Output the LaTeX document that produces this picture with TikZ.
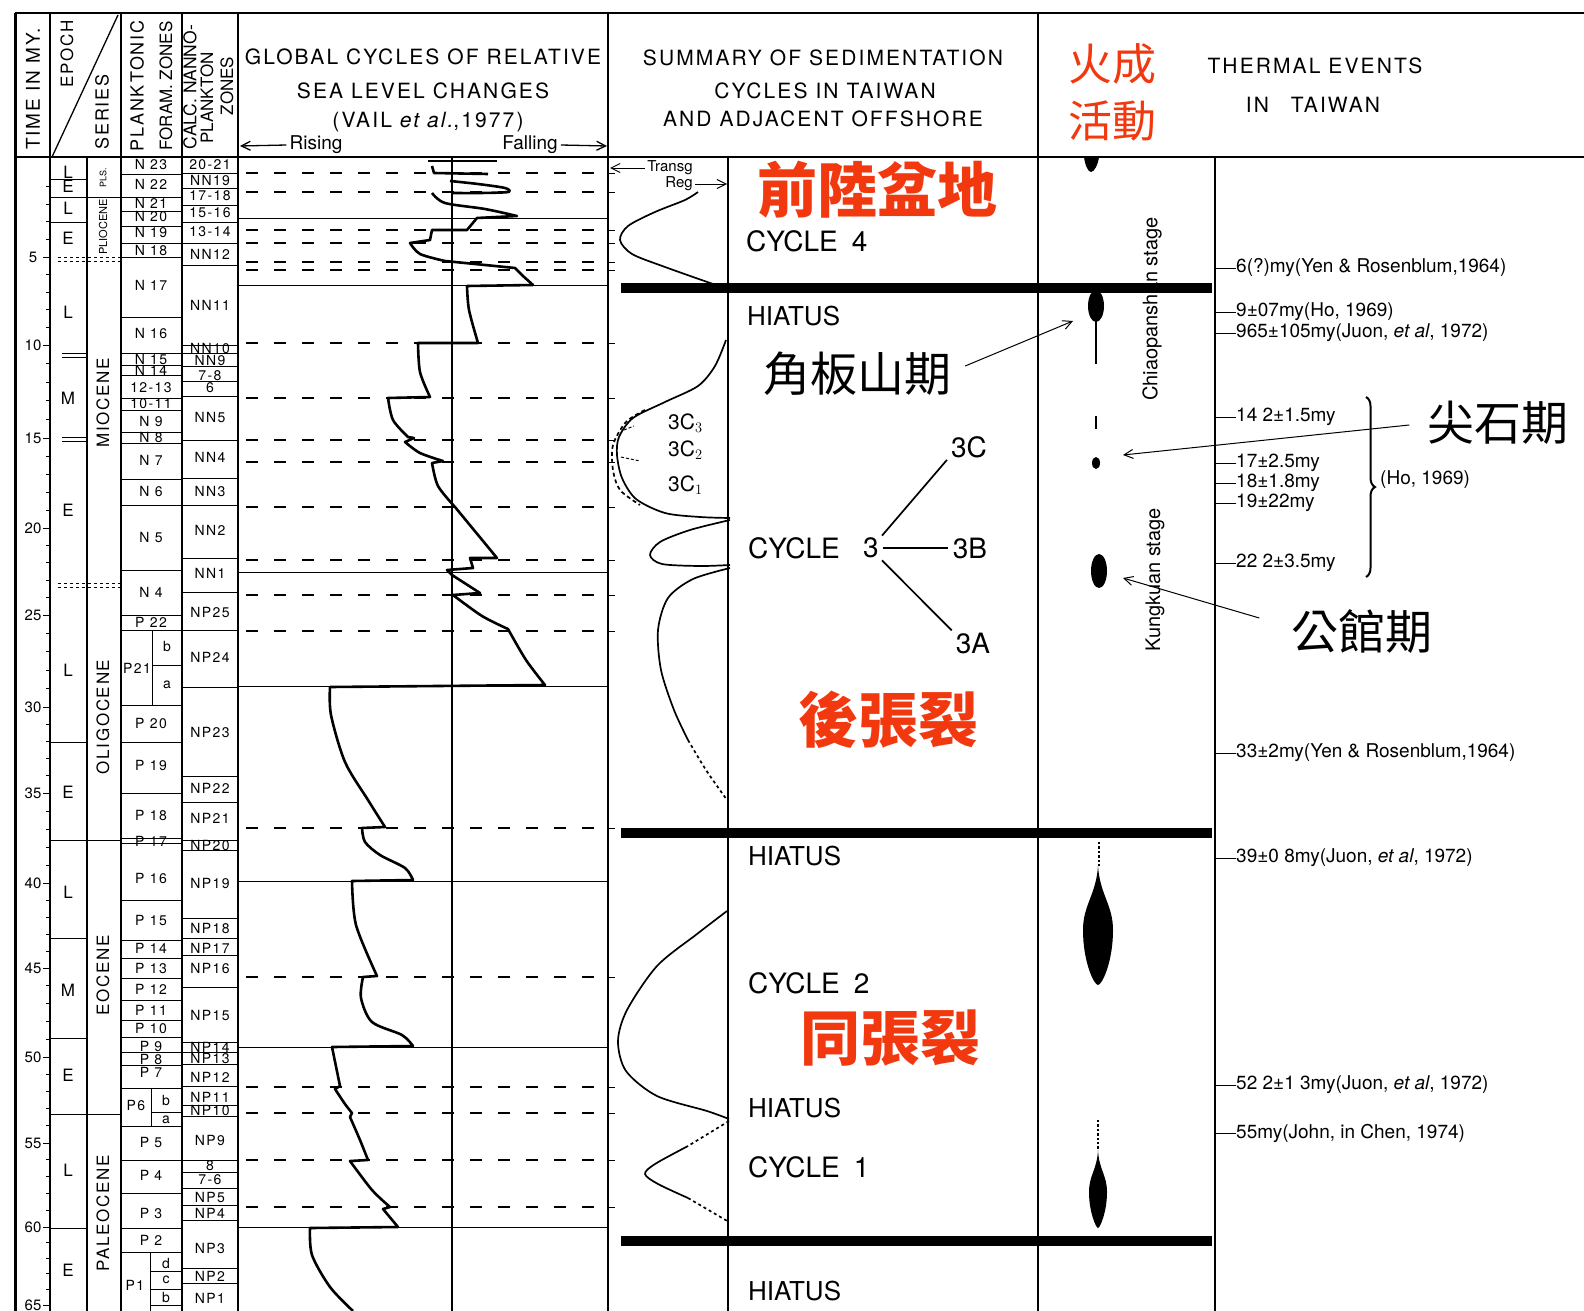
\documentclass[tikz,border=0pt]{standalone}
\usepackage{fontspec}
\setmainfont{TeX Gyre Heros}
\newfontfamily\wide{TeX Gyre Heros}[LetterSpace=10]
\newfontfamily\cjk{Noto Sans CJK TC}
\usetikzlibrary{arrows.meta,decorations.pathreplacing}
\definecolor{redcjk}{HTML}{F2380F}
\newcommand{\fsz}[1]{\fontsize{#1}{#1}\selectfont}
\tikzset{>/.tip={Straight Barb[length=9pt,width=9pt]},
  rule/.style={line width=1.3pt},
  zoneline/.style={line width=1pt},
  sealevel/.style={line width=2.6pt, line join=round},
  cyc/.style={line width=1.7pt},
  hiatusbar/.style={line width=10pt},
  dashrow/.style={line width=1.2pt, dash pattern=on 12pt off 16pt},
  zone/.style={font=\wide\fsz{14}, inner sep=0pt},
  hdr/.style={font=\wide\fsz{21}, inner sep=0pt},
  vhdr/.style={font=\wide\fsz{17}, inner sep=0pt, rotate=90},
  big/.style={font=\fsz{28}, inner sep=0pt, anchor=west},
  age/.style={font=\fsz{19}, inner sep=0pt, anchor=west},
  redtag/.style={text=redcjk, font=\cjk\bfseries\fsz{60}, inner sep=0pt},
  stagetag/.style={font=\cjk\fsz{47}, inner sep=0pt}}

\begin{document}
\begin{tikzpicture}[x=1pt,y=-1pt]
\useasboundingbox (0,0) rectangle (1584,1311);

% frame and columns
\draw[line width=3pt] (15,13) -- (15,1311);
\draw[rule] (15,13) -- (1584,13);
\draw[rule] (15,157) -- (1584,157);
\foreach \x in {50,121,182,238,608,1038}
  \draw[rule] (\x,13) -- (\x,1311);
\foreach \x in {87,452,728,1215}
  \draw[rule] (\x,157) -- (\x,1311);
\draw[rule] (52,157) -- (118,15);

% header, left columns
\node[vhdr, font=\wide\fsz{19}] (hTime) at (33,89) {TIME IN MY.};
\node[vhdr] (hEpoch) at (67,54) {EPOCH};
\node[vhdr, font=\wide\fsz{18}] (hSeries) at (102,112) {SERIES};
\node[vhdr, font=\wide\fsz{18}] (hPlank) at (137,86) {PLANKTONIC};
\node[vhdr, font=\fsz{17}] (hForam) at (166,86) {FORAM. ZONES};
\node[vhdr, font=\fsz{17.5}] (hCalc) at (190,87) {CALC. NANNO-};
\node[vhdr, font=\fsz{17}] (hPlkt) at (207,98) {PLANKTON};
\node[vhdr, font=\fsz{17}] (hZones) at (227,86) {ZONES};

% header, sea level
\node[hdr] (gsl1) at (423,57) {GLOBAL CYCLES OF RELATIVE};
\node[hdr] (gsl2) at (423,91) {SEA LEVEL CHANGES};
\node[hdr] (gsl3) at (428,122) {(VAIL \textit{et al.},1977)};
\node[font=\fsz{19}, inner sep=0pt] (rising) at (316,145) {Rising};
\node[font=\fsz{19}, inner sep=0pt] (falling) at (530,145) {Falling};
\coordinate (riseEnd) at (240,146);
\coordinate (fallEnd) at (607,146);
\draw[rule,->] ([xshift=-3pt]rising.west) -- (riseEnd);
\draw[rule,->] ([xshift=3pt]falling.east) -- (fallEnd);

% header, summary and thermal
\node[hdr] (sum1) at (823,58) {SUMMARY OF SEDIMENTATION};
\node[hdr] (sum2) at (825,91) {CYCLES IN TAIWAN};
\node[hdr] (sum3) at (823,119) {AND ADJACENT OFFSHORE};
\node[hdr] (th1) at (1315,66) {THERMAL EVENTS};
\node[hdr] (th2) at (1313,105) {IN\hspace{22pt}TAIWAN};
\node[text=redcjk, font=\cjk\fsz{44}, inner sep=0pt] (huo1) at (1112,64) {火成};
\node[text=redcjk, font=\cjk\fsz{44}, inner sep=0pt] (huo2) at (1112,121) {活動};

% time scale
\foreach \t/\y in {5/257,10/345,15/438,20/528,25/615,30/707,35/793,40/883,45/968,50/1057,55/1143,60/1227,65/1305}
  \node[font=\fsz{15}, inner sep=0pt] (t\t) at (33,\y) {\t};
\foreach \ya/\yb in {169/257,257/345,345/438,438/528,528/615,615/707,707/793,793/883,883/968,968/1057,1057/1143,1143/1227,1227/1305} {
  \draw[zoneline] (43,\yb) -- (50,\yb);
  \foreach \k in {1,...,4}
    \draw[zoneline] (46,{\ya+\k*(\yb-\ya)/5}) -- (50,{\ya+\k*(\yb-\ya)/5});
}

% epochs and series
\foreach \y in {179,197,222,742,840,938,1038,1114,1228}
  \draw[zoneline] (50,\y) -- (87,\y);
\foreach \y in {197,840,1114}
  \draw[zoneline] (87,\y) -- (121,\y);
\foreach \y in {257,583} {
  \draw[zoneline, dashed] (58,\y) -- (121,\y);
  \draw[zoneline, dashed] (58,\y+4) -- (121,\y+4);
}
\foreach \y in {353,437} {
  \draw[zoneline] (62,\y) -- (87,\y);
  \draw[zoneline] (62,\y+4) -- (87,\y+4);
}
\foreach \t/\y [count=\i] in {L/172,E/186,L/208,E/238,L/312,M/398,E/510,L/670,E/792,L/892,M/990,E/1075,L/1170,E/1270}
  \node[font=\fsz{17}, inner sep=0pt] (ep\i) at (68,\y) {\t};
\node[rotate=90, font=\fsz{9}, inner sep=0pt] (serPls) at (103,178) {PLS.};
\node[rotate=90, font=\fsz{11}, inner sep=0pt] (serPlio) at (103,227) {PLIOCENE};
\node[vhdr] (serMio) at (103,403) {MIOCENE};
\node[vhdr] (serOli) at (103,717) {OLIGOCENE};
\node[vhdr] (serEoc) at (103,975) {EOCENE};
\node[vhdr] (serPal) at (103,1213) {PALEOCENE};

% planktonic foram zones
\foreach \y in {174,197,211,226,243,257,317,353,365,375,398,410,432,443,479,505,570,615,630,705,742,793,838,843,900,940,958,978,1000,1020,1037,1052,1065,1088,1126,1160,1193,1228,1252}
  \draw[zoneline] (121,\y) -- (182,\y);
\foreach \y/\t [count=\i] in {165/N 23,184/N 22,203/N 21,217/N 20,233/N 19,250/N 18,285/N 17,333/N 16,359/N 15,370/N 14,388/12-13,404/10-11,421/N 9,437/N 8,460/N 7,491/N 6,537/N 5,592/N 4,622/P 22,723/P 20,765/P 19,815/P 18,841/P 17,878/P 16,920/P 15,948/P 14,968/P 13,989/P 12,1010/P 11,1028/P 10,1046/P 9,1059/P 8,1072/P 7,1142/P 5,1175/P 4,1213/P 3,1240/P 2}
  \node[zone] (fz\i) at (151,\y) {\t};
\draw[zoneline] (152,630) -- (152,705);
\draw[zoneline] (152,665) -- (182,665);
\node[zone] (fzP21) at (137,668) {P21};
\node[zone] (fzP21b) at (167,646) {b};
\node[zone] (fzP21a) at (167,685) {a};
\draw[zoneline] (151,1088) -- (151,1126);
\draw[zoneline] (151,1112) -- (182,1112);
\node[zone] (fzP6) at (136,1105) {P6};
\node[zone] (fzP6b) at (166,1100) {b};
\node[zone] (fzP6a) at (166,1120) {a};
\draw[zoneline] (150,1252) -- (150,1311);
\foreach \y in {1271,1289,1305}
  \draw[zoneline] (150,\y) -- (182,\y);
\node[zone] (fzP1) at (135,1285) {P1};
\node[zone] (fzP1d) at (166,1263) {d};
\node[zone] (fzP1c) at (166,1280) {c};
\node[zone] (fzP1b) at (166,1297) {b};

% calcareous nannoplankton zones
\foreach \y in {173,188,205,222,243,265,345,353,366,381,396,440,478,505,558,592,630,687,776,802,840,850,918,938,955,987,1042,1052,1064,1086,1105,1116,1160,1172,1188,1205,1220,1268,1283}
  \draw[zoneline] (182,\y) -- (238,\y);
\foreach \y/\t [count=\i] in {165/20-21,181/NN19,196/17-18,213/15-16,232/13-14,254/NN12,305/NN11,348/NN10,360/NN9,376/7-8,388/6,417/NN5,457/NN4,491/NN3,530/NN2,573/NN1,612/NP25,657/NP24,732/NP23,788/NP22,818/NP21,845/NP20,883/NP19,928/NP18,948/NP17,968/NP16,1015/NP15,1047/NP14,1058/NP13,1077/NP12,1097/NP11,1110/NP10,1140/NP9,1166/8,1180/7-6,1197/NP5,1213/NP4,1248/NP3,1276/NP2,1298/NP1}
  \node[zone] (nz\i) at (210,\y) {\t};

% sea level column
\foreach \y in {218,285,572,686,881,1047,1227}
  \draw[zoneline] (238,\y) -- (608,\y);
\foreach \y in {173,192,230,243,262,270,343,398,440,462,507,560,595,631,828,977,1087,1113,1160,1207} {
  \draw[dashrow] (246,\y) -- (606,\y);
  \draw[zoneline] (608,\y) -- (615,\y);
}
\draw[sealevel] (428,161) -- (497,161);
\draw[sealevel] (432,166) -- (434,173) -- (488,174);
\draw[sealevel] plot[smooth] coordinates {(450,181) (478,184) (505,188) (508,192) (480,193) (452,193)};
\draw[sealevel] (432,193) -- plot[smooth] coordinates {(432,193) (445,203) (485,209) (517,216)}
  -- (477,218) -- (467,230) -- (432,230) -- (430,240) -- (410,243)
  -- plot[smooth] coordinates {(410,243) (420,254) (445,261)}
  -- (515,268) -- (523,276) -- (533,285) -- (467,286)
  -- plot[smooth] coordinates {(467,286) (469,310) (478,343)}
  -- (418,343)
  -- plot[smooth] coordinates {(418,343) (420,372) (430,397)}
  -- (388,398)
  -- plot[smooth] coordinates {(388,398) (393,420) (408,437)}
  -- (414,438) -- (405,442)
  -- plot[smooth] coordinates {(405,442) (420,453) (443,461)}
  -- (432,463)
  -- plot[smooth] coordinates {(432,463) (438,486) (455,507)}
  -- (497,558) -- (470,558) -- (473,568) -- (447,570) -- (452,575) -- (480,593) -- (453,595)
  -- plot[smooth] coordinates {(453,595) (482,616) (508,629)}
  -- plot[smooth] coordinates {(508,629) (526,660) (545,685)}
  -- (330,687)
  -- plot[smooth] coordinates {(330,687) (331,715) (345,762) (368,800) (385,827)}
  -- (362,828)
  -- plot[smooth] coordinates {(362,828) (365,842) (380,855) (405,868) (413,880)}
  -- (352,881)
  -- plot[smooth] coordinates {(352,881) (356,925) (377,976)}
  -- (363,977)
  -- plot[smooth] coordinates {(363,977) (361,998) (372,1022) (402,1035) (413,1046)}
  -- (332,1047) -- (340,1086) -- (335,1089)
  -- plot[smooth] coordinates {(335,1089) (345,1104) (352,1113)}
  -- (350,1117)
  -- plot[smooth] coordinates {(350,1117) (360,1140) (368,1160)}
  -- (350,1161)
  -- plot[smooth] coordinates {(350,1161) (372,1190) (390,1207)}
  -- (383,1209) -- (398,1227) -- (310,1228)
  -- plot[smooth] coordinates {(310,1228) (312,1255) (330,1287) (353,1311)};

% transgression / regression curve
\node[font=\fsz{15}, inner sep=0pt] (transg) at (670,168) {Transg};
\node[font=\fsz{15}, inner sep=0pt] (reg) at (679,184) {Reg};
\coordinate (transEnd) at (610,168);
\coordinate (regEnd) at (727,184);
\draw[zoneline,->] ([xshift=-2pt]transg.west) -- (transEnd);
\draw[zoneline,->] ([xshift=2pt]reg.east) -- (regEnd);
\draw[cyc] plot[smooth] coordinates {(698,192) (685,200) (655,212) (628,226) (620,240) (632,254) (665,267) (713,284)};
\draw[cyc] plot[smooth] coordinates {(726,340) (715,366) (698,386) (665,402) (633,418) (619,437) (617,455) (622,478) (636,499) (665,513) (700,517) (730,518)};
\draw[cyc, dash pattern=on 4pt off 3pt] plot[smooth] coordinates {(645,410) (626,422) (613,445) (613,470) (620,490) (640,505)};
\draw[zoneline, dash pattern=on 3pt off 2pt] (624,430) -- (634,426);
\draw[zoneline, dash pattern=on 3pt off 2pt] (621,457) -- (640,461);
\draw[cyc] plot[smooth] coordinates {(730,520) (690,530) (660,542) (650,555) (662,564) (700,566) (730,565)};
\draw[cyc] plot[smooth] coordinates {(730,568) (693,579) (668,598) (658,630) (661,670) (674,710) (688,740)};
\draw[cyc, dashed] plot[smooth] coordinates {(688,740) (706,770) (727,800)};
\draw[cyc] plot[smooth] coordinates {(727,911) (697,934) (657,966) (627,1010) (618,1041) (626,1071) (657,1096) (707,1111) (729,1119)};
\draw[cyc, dashed] (729,1121) -- (688,1146);
\draw[cyc] plot[smooth] coordinates {(688,1146) (655,1164) (645,1174) (658,1184) (688,1198)};
\draw[cyc, dashed] (688,1198) -- (729,1222);
\node[font=\fsz{21}, inner sep=0pt, anchor=west] (c3c3) at (668,423) {3C$_3$};
\node[font=\fsz{21}, inner sep=0pt, anchor=west] (c3c2) at (668,450) {3C$_2$};
\node[font=\fsz{21}, inner sep=0pt, anchor=west] (c3c1) at (668,485) {3C$_1$};

% cycles
\node[redtag] (qianlu) at (877,190) {前陸盆地};
\node[big] (cyc4) at (746,241) {CYCLE\hspace{14pt}4};
\node[big, font=\fsz{26}] (hiat4) at (747,316) {HIATUS};
\node[stagetag] (jbsName) at (857,374) {角板山期};
\node[big] (cyc3) at (748,548) {CYCLE};
\node[font=\fsz{28}, inner sep=0pt] (cyc3n) at (871,548) {3};
\node[font=\fsz{28}, inner sep=0pt] (n3C) at (969,447) {3C};
\node[font=\fsz{28}, inner sep=0pt] (n3B) at (970,548) {3B};
\node[font=\fsz{28}, inner sep=0pt] (n3A) at (973,643) {3A};
\draw[cyc] ([shift={(3pt,2pt)}]cyc3n.north east) -- ([shift={(-4pt,-2pt)}]n3C.south west);
\draw[cyc] ([xshift=4pt]cyc3n.east) -- ([xshift=-5pt]n3B.west);
\draw[cyc] ([shift={(3pt,-2pt)}]cyc3n.south east) -- ([shift={(-4pt,2pt)}]n3A.north west);
\node[redtag] (houzhang) at (888,720) {後張裂};
\node[big, font=\fsz{26}] (hiat3) at (748,856) {HIATUS};
\node[big] (cyc2) at (748,983) {CYCLE\hspace{14pt}2};
\node[redtag] (tongzhang) at (890,1038) {同張裂};
\node[big, font=\fsz{26}] (hiat2) at (748,1108) {HIATUS};
\node[big] (cyc1) at (748,1167) {CYCLE\hspace{14pt}1};
\node[big, font=\fsz{26}] (hiat1) at (748,1291) {HIATUS};

% thermal events
\node[rotate=90, font=\fsz{20}, inner sep=0pt] (stCP) at (1152,309) {Chiaopanshan stage};
\node[rotate=90, font=\fsz{20}, inner sep=0pt] (stKK) at (1155,580) {Kungkuan stage};
\fill (1084,157) -- (1099,157) .. controls (1098,165) and (1094,172) .. (1091,172) .. controls (1088,172) and (1085,165) .. (1084,157) -- cycle;
\draw[line width=2.2pt] (1096,290) -- (1096,364);
\fill (1096,306) ellipse [x radius=8pt, y radius=16pt];
\draw[line width=2.6pt] (1096,416) -- (1096,429);
\fill (1096,463) ellipse [x radius=4pt, y radius=6pt];
\fill (1099,571) ellipse [x radius=8pt, y radius=17pt];
\draw[line width=2.4pt, dotted] (1099,842) -- (1099,867);
\fill (1098,866) .. controls (1100,895) and (1113,905) .. (1113,930) .. controls (1113,962) and (1102,985) .. (1098,985) .. controls (1094,985) and (1083,962) .. (1083,930) .. controls (1083,905) and (1096,895) .. (1098,866) -- cycle;
\draw[line width=2.4pt, dotted] (1098,1120) -- (1098,1150);
\fill (1098,1150) .. controls (1099,1170) and (1107,1175) .. (1107,1192) .. controls (1107,1212) and (1100,1228) .. (1098,1228) .. controls (1096,1228) and (1089,1212) .. (1089,1192) .. controls (1089,1175) and (1097,1170) .. (1098,1150) -- cycle;
\coordinate (evJBS) at (1073,321);
\coordinate (evJS) at (1123,455);
\coordinate (evGK) at (1123,578);
\node[stagetag] (jsName) at (1498,423) {尖石期};
\node[stagetag] (gkName) at (1362,632) {公館期};
\draw[zoneline,->] ([shift={(14pt,8pt)}]jbsName.east) -- (evJBS);
\draw[zoneline,->] ([xshift=-18pt,yshift=-2pt]jsName.west) -- (evJS);
\draw[zoneline,->] ([xshift=-32pt,yshift=14pt]gkName.west) -- (evGK);

% hiatus bars
\draw[hiatusbar] (621,288) -- (1212,288);
\draw[hiatusbar] (621,833) -- (1212,833);
\draw[hiatusbar] (621,1241) -- (1212,1241);

% radiometric ages
\foreach \y/\t [count=\i] in {268/{6(?)my(Yen \& Rosenblum,1964)},312/{9±07my(Ho, 1969)},333/{965±105my(Juon, \textit{et al}, 1972)},417/{14 2±1.5my},463/{17±2.5my},483/{18±1.8my},503/{19±22my},563/{22 2±3.5my},753/{33±2my(Yen \& Rosenblum,1964)},858/{39±0 8my(Juon, \textit{et al}, 1972)},1085/{52 2±1 3my(Juon, \textit{et al}, 1972)},1133/{55my(John, in Chen, 1974)}} {
  \node[age] (age\i) at (1236,\y) {\t};
  \draw[zoneline] (1215,\y) -- (age\i.west);
}
\draw[line width=2pt, decorate, decoration={brace, amplitude=9pt}] (1366,397) -- (1366,577);
\node[age] (hoRef) at (1380,480) {(Ho, 1969)};
\end{tikzpicture}
\end{document}
